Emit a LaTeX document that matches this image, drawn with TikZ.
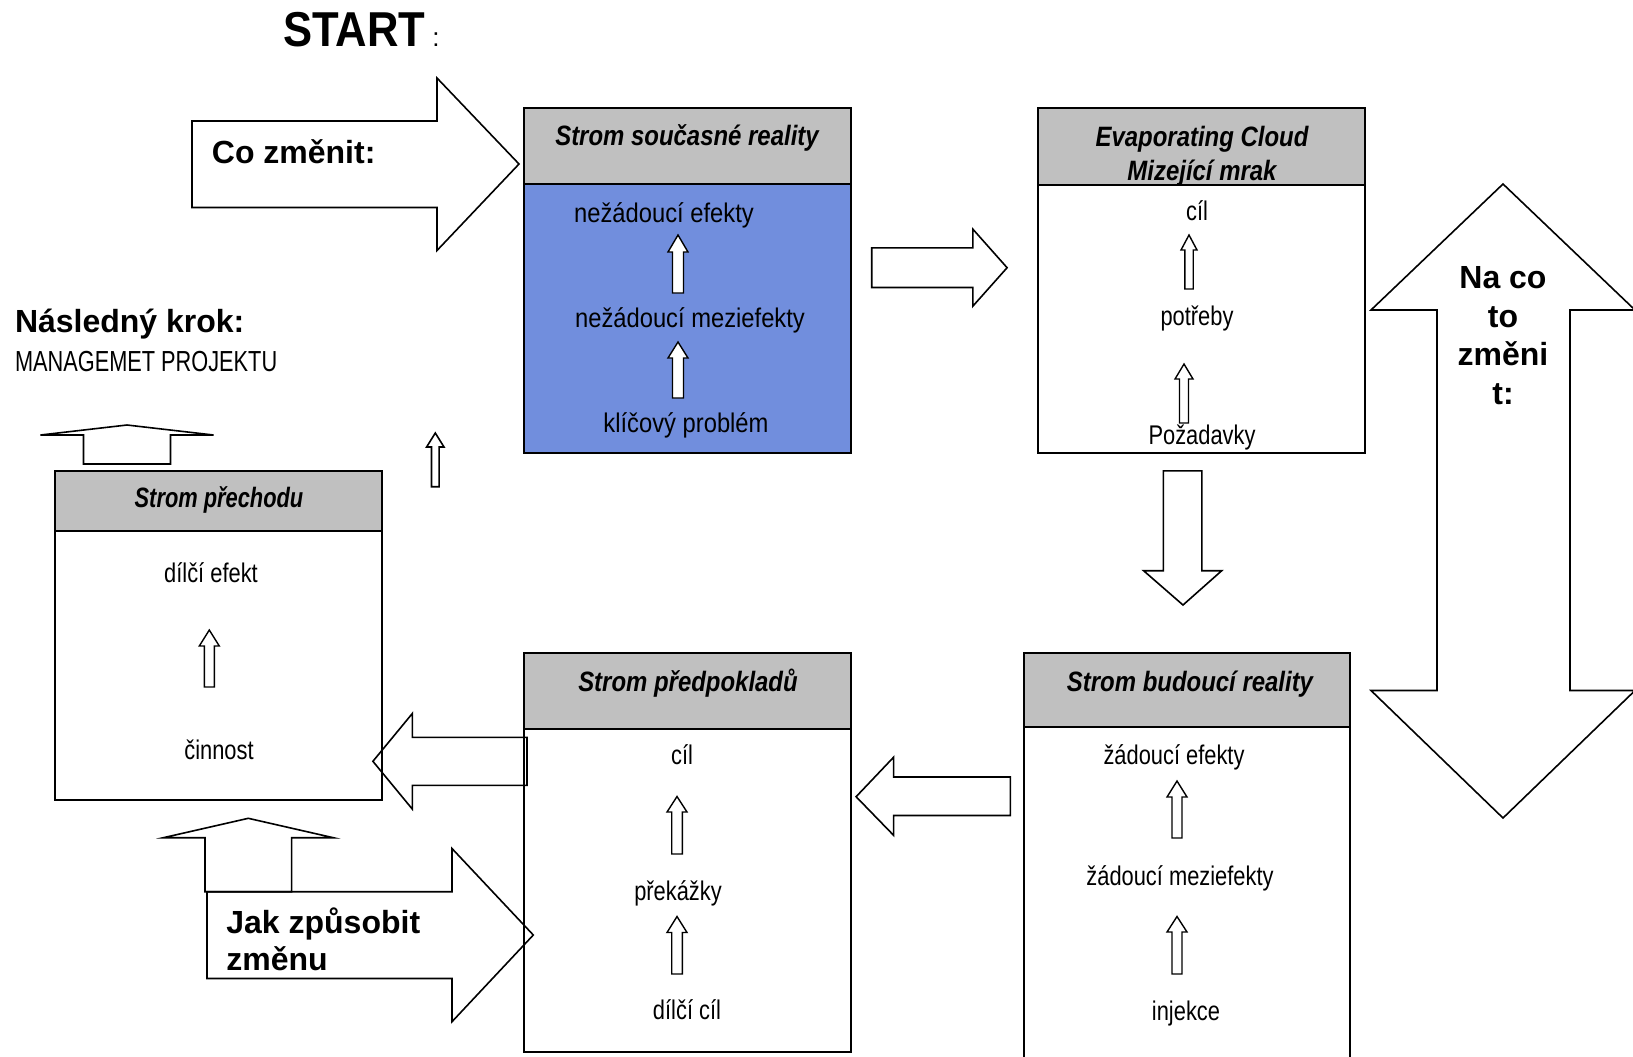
\documentclass[tikz,border=0pt]{standalone}
\usepackage{fontspec}
\setmainfont{Liberation Sans}
\usepackage{graphicx}
\usetikzlibrary{fit}

\definecolor{hdrgray}{RGB}{192,192,192}
\definecolor{crtblue}{RGB}{113,142,221}

% horizontally condensed text
\newcommand\hs[2]{\scalebox{#1}[1]{#2}}
% hollow upward arrow: [style]{centre x}{tip y}{head base y}{foot y}{head half width}{shaft half width}
\newcommand\uparr[7][smallarrow]{%
  \draw[#1] (#2,#3) -- (#2+#6,#4) -- (#2+#7,#4) -- (#2+#7,#5) -- (#2-#7,#5)
    -- (#2-#7,#4) -- (#2-#6,#4) -- cycle;}

\tikzset{
  frame/.style={draw=black, line width=1pt, inner sep=0pt, outer sep=0pt},
  hdr/.style={frame, fill=hdrgray},
  blockarrow/.style={draw=black, line width=0.8pt, line join=miter},
  smallarrow/.style={draw=black, line width=0.7pt, fill=white},
  bodytxt/.style={anchor=base, inner sep=0pt, font=\fontsize{13.5}{16}\selectfont},
  hdrtxt/.style={anchor=base, inner sep=0pt, font=\fontsize{14}{17}\selectfont\bfseries\itshape},
  boldtxt/.style={anchor=base, inner sep=0pt, font=\fontsize{16}{19}\selectfont\bfseries},
  boldleft/.style={boldtxt, anchor=base west},
}

\begin{document}
\begin{tikzpicture}[x=0.5pt, y=-0.5pt]
\useasboundingbox (0,0) rectangle (1633,1056);
\clip (0,0) rectangle (1633,1056);

% ---------- title ----------
\node[anchor=base west, inner sep=0pt, font=\fontsize{24.5}{28}\selectfont\bfseries] (start) at (283,46.7) {\hs{0.89}{START}};
\node[anchor=base west, inner sep=0pt, font=\fontsize{13}{16}\selectfont] (startcolon) at (432,46.7) {:};

% ---------- current reality tree ----------
\node[frame, fill=crtblue, fit={(524,108) (851,453)}] (crt) {};
\node[hdr, fit={(524,108) (851,184)}] (crth) {};
\node[hdrtxt] (crtt) at (687,145) {\hs{0.855}{Strom současné reality}};
\node[bodytxt] (crt1) at (664,222) {\hs{0.88}{nežádoucí efekty}};
\node[bodytxt] (crt2) at (690,327) {\hs{0.88}{nežádoucí meziefekty}};
\node[bodytxt] (crt3) at (686,432) {\hs{0.88}{klíčový problém}};
\uparr{678}{235}{252}{293}{10}{5.5}
\uparr{678}{342}{358}{398}{10}{5.5}

% ---------- evaporating cloud ----------
\node[frame, fill=white, fit={(1038,108) (1365,453)}] (ec) {};
\node[hdr, fit={(1038,108) (1365,185)}] (ech) {};
\node[hdrtxt] (ect1) at (1202,146) {\hs{0.855}{Evaporating Cloud}};
\node[hdrtxt] (ect2) at (1202,180) {\hs{0.855}{Mizející mrak}};
\node[bodytxt] (ec1) at (1197,220) {\hs{0.81}{cíl}};
\node[bodytxt] (ec2) at (1197,325) {\hs{0.81}{potřeby}};
\node[bodytxt] (ec3) at (1202,444) {\hs{0.81}{Požadavky}};
\uparr{1189}{235}{250}{289}{8}{4.2}
\uparr{1184}{364}{379}{423}{9}{4.5}

% ---------- future reality tree ----------
\node[frame, fill=white, fit={(1024,653) (1350,1075)}] (frt) {};
\node[hdr, fit={(1024,653) (1350,727)}] (frth) {};
\node[hdrtxt] (frtt) at (1190,691) {\hs{0.855}{Strom budoucí reality}};
\node[bodytxt] (frt1) at (1174,764) {\hs{0.81}{žádoucí efekty}};
\node[bodytxt] (frt2) at (1180,885) {\hs{0.81}{žádoucí meziefekty}};
\node[bodytxt] (frt3) at (1186,1020) {\hs{0.81}{injekce}};
\uparr{1177}{781}{797}{838}{10}{5}
\uparr{1177}{916.5}{932}{974}{10}{5}

% ---------- prerequisite tree ----------
\node[frame, fill=white, fit={(524,653) (851,1052)}] (prt) {};
\node[hdr, fit={(524,653) (851,729)}] (prth) {};
\node[hdrtxt] (prtt) at (688,691) {\hs{0.855}{Strom předpokladů}};
\node[bodytxt] (prt1) at (682,764) {\hs{0.81}{cíl}};
\node[bodytxt] (prt2) at (678,900) {\hs{0.81}{překážky}};
\node[bodytxt] (prt3) at (687,1019) {\hs{0.81}{dílčí cíl}};
\uparr{677}{796.5}{812}{854}{10}{5.3}
\uparr{677}{916.5}{932.5}{974}{10}{5.3}

% ---------- transition tree ----------
\node[frame, fill=white, fit={(55,471) (382,800)}] (trt) {};
\node[hdr, fit={(55,471) (382,531)}] (trth) {};
\node[hdrtxt] (trtt) at (219,507) {\hs{0.78}{Strom přechodu}};
\node[bodytxt] (trt1) at (211,582) {\hs{0.81}{dílčí efekt}};
\node[bodytxt] (trt2) at (219,759) {\hs{0.81}{činnost}};
\uparr{209.3}{630}{646}{687}{10}{5}

% ---------- side labels ----------
\node[boldleft] (next) at (14.6,332) {Následný krok:};
\node[anchor=base west, inner sep=0pt, font=\fontsize{14.5}{17}\selectfont] (pm) at (14.6,371) {\hs{0.75}{MANAGEMET PROJEKTU}};

% ---------- block arrows ----------
% "Co změnit:" into the current reality tree
\draw[blockarrow] (192,121) -- (437,121) -- (437,78) -- (519,164) -- (437,250.5)
  -- (437,207.5) -- (192,207.5) -- cycle;
\node[boldleft] (what) at (211.5,163) {Co změnit:};

% current reality tree -> evaporating cloud
\draw[blockarrow] (871.7,247.9) -- (972.8,247.9) -- (972.8,229.1) -- (1007.1,267.7)
  -- (972.8,306.2) -- (972.8,287.5) -- (871.7,287.5) -- cycle;

% evaporating cloud -> future reality tree
\draw[blockarrow] (1163.4,470.8) -- (1201.9,470.8) -- (1201.9,570.7) -- (1221.7,570.7)
  -- (1183,605) -- (1143.6,570.7) -- (1163.4,570.7) -- cycle;

% future reality tree -> prerequisite tree
\draw[blockarrow] (1010.3,777) -- (893.6,777) -- (893.6,757.2) -- (856.1,796.7)
  -- (893.6,835.3) -- (893.6,815.5) -- (1010.3,815.5) -- cycle;

% prerequisite tree -> transition tree
\draw[blockarrow] (527,737.4) -- (412.4,737.4) -- (412.4,713.4) -- (372.9,761.3)
  -- (412.4,809.2) -- (412.4,785.3) -- (527,785.3) -- cycle;

% double arrow "Na co to změnit:"
\draw[blockarrow] (1503,184) -- (1635,310) -- (1570,310) -- (1570,690.5) -- (1635,690.5)
  -- (1503,818) -- (1371,690.5) -- (1437,690.5) -- (1437,310) -- (1371,310) -- cycle;
\node[boldtxt] (to1) at (1503,288.5) {Na co};
\node[boldtxt] (to2) at (1503,327) {to};
\node[boldtxt] (to3) at (1503,365.5) {změni};
\node[boldtxt] (to4) at (1503,404) {t:};

% flat-headed arrows above and below the transition tree
\uparr[blockarrow]{127}{425}{435}{464}{86.5}{43.5}
\uparr[blockarrow]{248.3}{818.3}{837.7}{891.7}{85}{43.3}
% small arrow beside the current reality tree
\uparr[blockarrow]{435.3}{433}{447}{486.7}{8.7}{3.8}

% "Jak způsobit změnu" into the prerequisite tree
\draw[blockarrow] (207,891.7) -- (452,891.7) -- (452,848.5) -- (533.3,935) -- (452,1021.7)
  -- (452,978.5) -- (207,978.5) -- cycle;
\node[boldleft] (how1) at (226,933) {Jak způsobit};
\node[boldleft] (how2) at (226,970.5) {změnu};
\end{tikzpicture}
\end{document}
